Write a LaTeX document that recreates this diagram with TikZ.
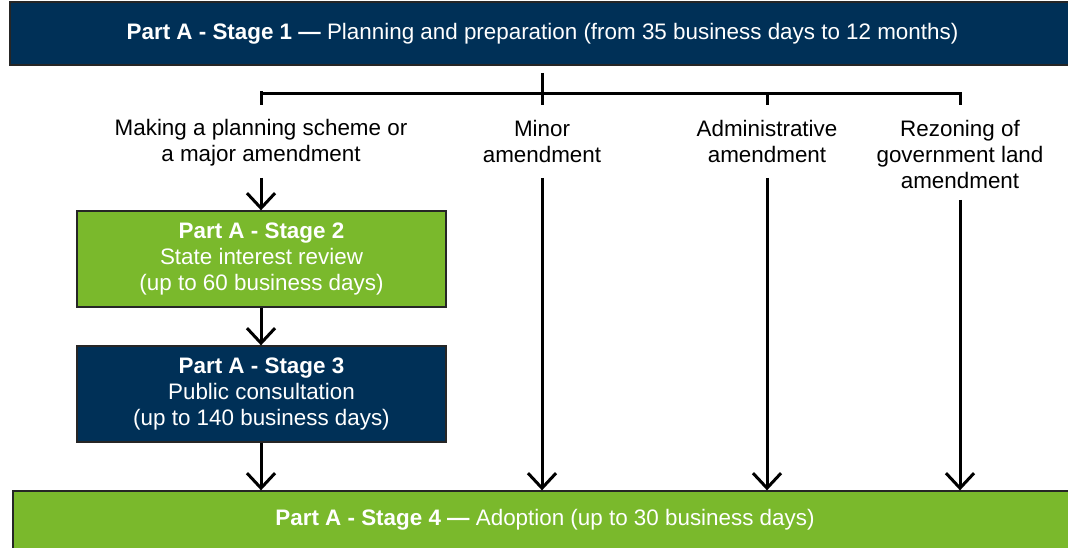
\documentclass[tikz,border=0pt]{standalone}
\usepackage{fontspec}
\setmainfont{Liberation Sans}
\usetikzlibrary{arrows.meta}
\definecolor{navy}{RGB}{0,48,87}
\definecolor{leaf}{RGB}{122,185,44}
\tikzset{
  stagebox/.style={draw=black!85, line width=1.3pt, align=center, text=white, inner sep=0pt, font=\fontsize{22.4}{26}\selectfont},
  lbl/.style={align=center, inner sep=0pt, font=\fontsize{22.4}{26}\selectfont},
  link/.style={line width=3pt, line cap=butt},
  arr/.style={link, -{Straight Barb[length=15pt,width=28pt,line width=3pt]}}
}
\begin{document}
\begin{tikzpicture}[x=1pt,y=-1pt]
\useasboundingbox (0,0) rectangle (1068,548);
\node[stagebox, fill=navy, minimum width=1065pt, minimum height=63pt] (top) at (542.5,33.5)
  {\textbf{Part A - Stage 1 —} Planning and preparation (from 35 business days to 12 months)};
\node[stagebox, fill=leaf, minimum width=369pt, minimum height=96pt] (s2) at (261.5,259)
  {\textbf{Part A - Stage 2}\\State interest review\\(up to 60 business days)};
\node[stagebox, fill=navy, minimum width=369pt, minimum height=96pt] (s3) at (261.5,394)
  {\textbf{Part A - Stage 3}\\Public consultation\\(up to 140 business days)};
\node[stagebox, fill=leaf, minimum width=1064pt, minimum height=58pt] (s4) at (545,520)
  {\textbf{Part A - Stage 4 —} Adoption (up to 30 business days)};
\node[lbl] (l1) at (261,143) {Making a planning scheme or\\a major amendment};
\node[lbl] (l2) at (542,141) {Minor\\amendment};
\node[lbl] (l3) at (767,141) {Administrative\\amendment};
\node[lbl] (l4) at (960,154) {Rezoning of\\government land\\amendment};
% bracket
\coordinate (stemtop) at (542,73);
\coordinate (bl) at (261,94);
\coordinate (br) at (960,94);
\draw[link] (stemtop) -- (542,105);
\draw[link] (bl |- 0,91.5) -- (bl |- 0,105);
\draw[link] (bl) -- (br);
\draw[link] (767,94) -- (767,105);
\draw[link] (br |- 0,92.5) -- (br |- 0,105);
% arrows
\draw[arr] (261,178) -- (s2.north -| 261,0);
\draw[arr] (s2.south -| 261,0) -- (s3.north -| 261,0);
\draw[arr] (s3.south -| 261,0) -- (s4.north -| 261,0);
\draw[arr] (542,178) -- (s4.north -| 542,0);
\draw[arr] (767,178) -- (s4.north -| 767,0);
\draw[arr] (960,200) -- (s4.north -| 960,0);
\end{tikzpicture}
\end{document}
